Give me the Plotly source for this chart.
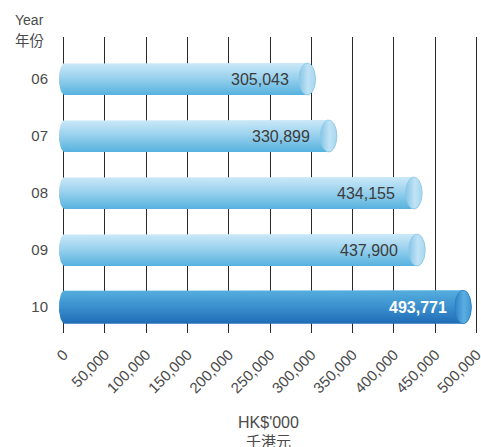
import numpy as np
import plotly.graph_objects as go

# Annual figures, HK$'000
years = ["06", "07", "08", "09", "10"]
values = [305043, 330899, 434155, 437900, 493771]
x_ticks = list(range(0, 500001, 50000))
x_tick_text = [f"{v:,}" for v in x_ticks]

FONT = "Liberation Sans, Arial, sans-serif"
CJK = "Noto Sans CJK TC, Noto Sans CJK SC, sans-serif"
TEXT = "#4a4a4a"

# Styling of the cylinder bars (light for earlier years, dark for the latest)
BODY_LIGHT = [[0, "#56b2de"], [0.55, "#9bd2ee"], [1, "#cbe9f8"]]
BODY_DARK = [[0, "#1f6cb6"], [0.55, "#3d93d0"], [1, "#55aede"]]
CAP_LIGHT = [[0, "#86c5e7"], [0.55, "#c0e3f5"], [1, "#a6d7f0"]]
CAP_DARK = [[0, "#2f82c6"], [0.55, "#5aaee0"], [1, "#3f97d2"]]

HALF_H = 0.28      # half bar thickness, in category units
CAP_A = 10000      # horizontal semi-axis of the end cap, in data units
LEFT_A = 7200      # horizontal semi-axis of the rounded left end
LEFT_C = 1500      # centre of the rounded left end

fig = go.Figure()

n = len(years)
for i, (yr, v) in enumerate(zip(years, values)):
    yc = n - 1 - i
    last = i == n - 1
    hh = HALF_H * (1.05 if last else 1.0)
    # body outline: rounded left end + elliptical right end
    t_r = np.linspace(-np.pi / 2, np.pi / 2, 40)
    xr = (v - CAP_A) + CAP_A * np.cos(t_r)
    yr_ = yc + hh * np.sin(t_r)
    t_l = np.linspace(np.pi / 2, 3 * np.pi / 2, 40)
    xl = LEFT_C + LEFT_A * np.cos(t_l)
    yl = yc + hh * np.sin(t_l)
    bx = np.concatenate([xr, xl, xr[:1]])
    by = np.concatenate([yr_, yl, yr_[:1]])
    fig.add_trace(go.Scatter(
        x=bx, y=by, mode="lines", fill="toself",
        line=dict(width=0, color="rgba(0,0,0,0)"),
        fillgradient=dict(type="vertical",
                          colorscale=BODY_DARK if last else BODY_LIGHT),
        hoverinfo="skip", showlegend=False,
    ))
    # end cap
    t = np.linspace(0, 2 * np.pi, 80)
    cx = (v - CAP_A) + CAP_A * np.cos(t)
    cy = yc + hh * np.sin(t)
    fig.add_trace(go.Scatter(
        x=cx, y=cy, mode="lines", fill="toself",
        line=dict(width=0.8, color="#2a7cc0" if last else "#8cc7e6"),
        fillgradient=dict(type="horizontal",
                          colorscale=CAP_DARK if last else CAP_LIGHT),
        hoverinfo="skip", showlegend=False,
    ))
    # value label
    fig.add_annotation(
        x=v, y=yc, xref="x", yref="y", text=f"{v:,}",
        xanchor="right", yanchor="middle", xshift=-22 if last else -25,
        showarrow=False,
        font=dict(family=FONT, size=16, color="#ffffff" if last else "#3c3c3c",
                  weight="bold" if last else "normal"),
    )

fig.update_xaxes(
    range=[-8000, 503000], tickvals=x_ticks, ticktext=x_tick_text,
    tickangle=-45, showgrid=True, gridcolor="#2a2a2a", gridwidth=1,
    zeroline=False, showline=False, ticks="", automargin=False,
    ticklabelstandoff=9, ticklabeloverflow="allow",
    tickfont=dict(family=FONT, size=15, color=TEXT),
)
fig.update_yaxes(
    range=[-0.456, 4.737], tickvals=list(range(n)), ticktext=years[::-1],
    showgrid=False, zeroline=False, showline=False, ticks="", automargin=False,
    ticklabelstandoff=8,
    tickfont=dict(family=FONT, size=15, color=TEXT),
)

# Axis captions (plot area spans 422 x 296 px)
fig.add_annotation(
    xref="paper", yref="paper", x=-0.105, y=1.09, xanchor="left", yanchor="top",
    text="Year", showarrow=False,
    font=dict(family=FONT, size=14, color=TEXT),
)
fig.add_annotation(
    xref="paper", yref="paper", x=-0.105, y=1.035, xanchor="left", yanchor="top",
    text="年份", showarrow=False,
    font=dict(family=CJK, size=14.5, color=TEXT),
)
fig.add_annotation(
    xref="paper", yref="paper", x=0.5, y=-0.268, xanchor="center", yanchor="top",
    text="HK$'000", showarrow=False,
    font=dict(family=FONT, size=16, color=TEXT),
)
fig.add_annotation(
    xref="paper", yref="paper", x=0.5, y=-0.268, xanchor="center", yanchor="top",
    yshift=-16, text="千港元", showarrow=False,
    font=dict(family=CJK, size=15, color=TEXT),
)

fig.update_layout(
    width=481, height=447,
    margin=dict(l=57.4, r=1.6, t=37, b=114),
    paper_bgcolor="white", plot_bgcolor="white",
)

fig.write_html("out.html")
